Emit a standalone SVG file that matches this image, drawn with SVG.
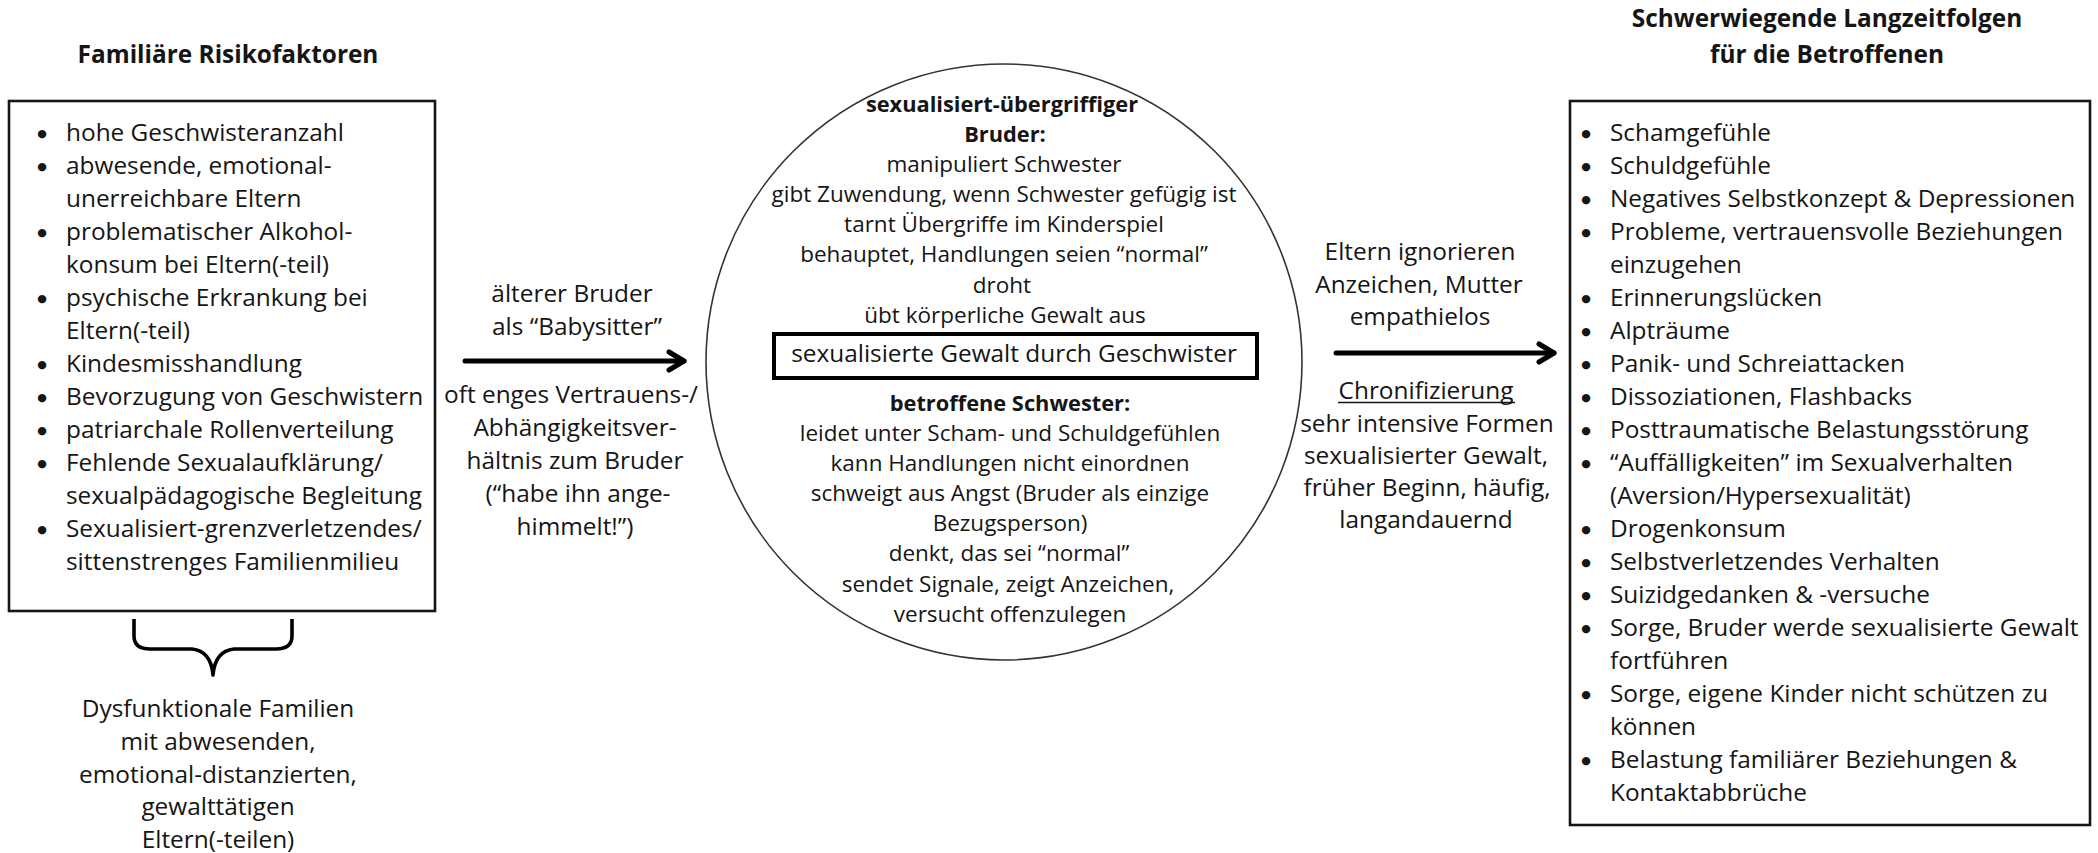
<svg xmlns="http://www.w3.org/2000/svg" width="2098" height="853" viewBox="0 0 2098 853">
<style>
text{font-family:"Open Sans","Noto Sans","Liberation Sans",sans-serif;fill:#151515;font-size:24.4px}
.m{text-anchor:middle}
.b{font-weight:700}
.c{font-size:22.5px;text-anchor:middle}
.cb{font-size:21.8px}
.bul{text-anchor:middle}
.bul text{font-family:"DejaVu Sans",sans-serif;font-size:11px}
.box{fill:#fff;stroke:#151515;stroke-width:2.6}
.conn{fill:none;stroke:#000;stroke-width:5;stroke-linecap:round}
</style>
<defs>
<marker id="arr" markerUnits="userSpaceOnUse" viewBox="0 0 24 26" refX="18" refY="13" markerWidth="24" markerHeight="26" orient="auto">
<path d="M3,4 L18,13 L3,22" fill="none" stroke="#000" stroke-width="5" stroke-linecap="round" stroke-linejoin="round"/>
</marker>
</defs>
<rect width="2098" height="853" fill="#fff"/>

<g id="risk-factors">
<text class="m b" x="228" y="63">Familiäre Risikofaktoren</text>
<rect class="box" x="9" y="101" width="426" height="510"/>
<g class="bul">
<text x="42" y="137">●</text><text x="42" y="170">●</text><text x="42" y="236">●</text><text x="42" y="302">●</text><text x="42" y="368">●</text><text x="42" y="401">●</text><text x="42" y="434">●</text><text x="42" y="467">●</text><text x="42" y="533">●</text>
</g>
<text x="66" y="141">hohe Geschwisteranzahl</text>
<text x="66" y="174">abwesende, emotional-</text>
<text x="66" y="207">unerreichbare Eltern</text>
<text x="66" y="240">problematischer Alkohol-</text>
<text x="66" y="273">konsum bei Eltern(-teil)</text>
<text x="66" y="306">psychische Erkrankung bei</text>
<text x="66" y="339">Eltern(-teil)</text>
<text x="66" y="372">Kindesmisshandlung</text>
<text x="66" y="405">Bevorzugung von Geschwistern</text>
<text x="66" y="438">patriarchale Rollenverteilung</text>
<text x="66" y="471">Fehlende Sexualaufklärung/</text>
<text x="66" y="504">sexualpädagogische Begleitung</text>
<text x="66" y="537">Sexualisiert-grenzverletzendes/</text>
<text x="66" y="570">sittenstrenges Familienmilieu</text>
</g>

<g id="dysfunctional-families">
<path d="M134,619 L134,636 Q134,649 150,649 L192,649 Q211,651 213,675 Q215,651 234,649 L276,649 Q292,649 292,636 L292,619" fill="none" stroke="#000" stroke-width="3.6" stroke-linejoin="round"/>
<text class="m" x="218" y="717">Dysfunktionale Familien</text>
<text class="m" x="218" y="750">mit abwesenden,</text>
<text class="m" x="218" y="783">emotional-distanzierten,</text>
<text class="m" x="218" y="815">gewalttätigen</text>
<text class="m" x="218" y="848">Eltern(-teilen)</text>
</g>

<g id="sibling-violence">
<circle cx="1004" cy="362" r="298" fill="none" stroke="#333" stroke-width="1.6"/>
<text class="c cb b" x="1002" y="111.7">sexualisiert-übergriffiger</text>
<text class="c cb b" x="1005" y="141.8">Bruder:</text>
<text class="c" x="1004" y="172">manipuliert Schwester</text>
<text class="c" x="1004" y="202.1">gibt Zuwendung, wenn Schwester gefügig ist</text>
<text class="c" x="1004" y="232.3">tarnt Übergriffe im Kinderspiel</text>
<text class="c" x="1004" y="262.4">behauptet, Handlungen seien “normal”</text>
<text class="c" x="1002" y="292.6">droht</text>
<text class="c" x="1005" y="322.7">übt körperliche Gewalt aus</text>
<rect x="774" y="334" width="483" height="44" fill="#fff" stroke="#000" stroke-width="4"/>
<text class="m" x="1014" y="362">sexualisierte Gewalt durch Geschwister</text>
<text class="c cb b" x="1010" y="410.7">betroffene Schwester:</text>
<text class="c" x="1010" y="440.8">leidet unter Scham- und Schuldgefühlen</text>
<text class="c" x="1010" y="471">kann Handlungen nicht einordnen</text>
<text class="c" x="1010" y="501.1">schweigt aus Angst (Bruder als einzige</text>
<text class="c" x="1010" y="531.2">Bezugsperson)</text>
<text class="c" x="1009" y="561.4">denkt, das sei “normal”</text>
<text class="c" x="1008" y="591.5">sendet Signale, zeigt Anzeichen,</text>
<text class="c" x="1010" y="621.7">versucht offenzulegen</text>
</g>

<g id="consequences">
<text class="m b" x="1827" y="27">Schwerwiegende Langzeitfolgen</text>
<text class="m b" x="1827" y="63">für die Betroffenen</text>
<rect class="box" x="1570" y="101" width="520" height="724"/>
<g class="bul">
<text x="1586" y="136.5">●</text><text x="1586" y="169.5">●</text><text x="1586" y="202.5">●</text><text x="1586" y="235.5">●</text><text x="1586" y="301.5">●</text><text x="1586" y="334.5">●</text><text x="1586" y="367.5">●</text><text x="1586" y="400.5">●</text><text x="1586" y="433.5">●</text><text x="1586" y="466.5">●</text><text x="1586" y="532.5">●</text><text x="1586" y="565.5">●</text><text x="1586" y="598.5">●</text><text x="1586" y="631.5">●</text><text x="1586" y="697.5">●</text><text x="1586" y="763.5">●</text>
</g>
<text x="1610" y="140.5">Schamgefühle</text>
<text x="1610" y="173.5">Schuldgefühle</text>
<text x="1610" y="206.5">Negatives Selbstkonzept &amp; Depressionen</text>
<text x="1610" y="239.5">Probleme, vertrauensvolle Beziehungen</text>
<text x="1610" y="272.5">einzugehen</text>
<text x="1610" y="305.5">Erinnerungslücken</text>
<text x="1610" y="338.5">Alpträume</text>
<text x="1610" y="371.5">Panik- und Schreiattacken</text>
<text x="1610" y="404.5">Dissoziationen, Flashbacks</text>
<text x="1610" y="437.5">Posttraumatische Belastungsstörung</text>
<text x="1610" y="470.5">“Auffälligkeiten” im Sexualverhalten</text>
<text x="1610" y="503.5">(Aversion/Hypersexualität)</text>
<text x="1610" y="536.5">Drogenkonsum</text>
<text x="1610" y="569.5">Selbstverletzendes Verhalten</text>
<text x="1610" y="602.5">Suizidgedanken &amp; -versuche</text>
<text x="1610" y="635.5">Sorge, Bruder werde sexualisierte Gewalt</text>
<text x="1610" y="668.5">fortführen</text>
<text x="1610" y="701.5">Sorge, eigene Kinder nicht schützen zu</text>
<text x="1610" y="734.5">können</text>
<text x="1610" y="767.5">Belastung familiärer Beziehungen &amp;</text>
<text x="1610" y="800.5">Kontaktabbrüche</text>
</g>

<g id="connectors">
<g id="edge-risk-to-violence">
<line class="conn" x1="465" y1="361" x2="684" y2="361" marker-end="url(#arr)"/>
<text class="m" x="572" y="302">älterer Bruder</text>
<text class="m" x="577" y="335">als “Babysitter”</text>
<text class="m" x="571" y="403">oft enges Vertrauens-/</text>
<text class="m" x="575" y="436">Abhängigkeitsver-</text>
<text class="m" x="575" y="469">hältnis zum Bruder</text>
<text class="m" x="578" y="502">(“habe ihn ange-</text>
<text class="m" x="575" y="535">himmelt!”)</text>
</g>
<g id="edge-violence-to-consequences">
<line class="conn" x1="1336" y1="353" x2="1554" y2="353" marker-end="url(#arr)"/>
<text class="m" x="1420" y="260">Eltern ignorieren</text>
<text class="m" x="1419" y="293">Anzeichen, Mutter</text>
<text class="m" x="1420" y="325">empathielos</text>
<text class="m" x="1426" y="398.5">Chronifizierung</text>
<line x1="1338" y1="402.5" x2="1515" y2="402.5" stroke="#151515" stroke-width="1.6"/>
<text class="m" x="1427" y="431.5">sehr intensive Formen</text>
<text class="m" x="1426" y="463.5">sexualisierter Gewalt,</text>
<text class="m" x="1427" y="495.5">früher Beginn, häufig,</text>
<text class="m" x="1426" y="528">langandauernd</text>
</g>
</g>
</svg>
